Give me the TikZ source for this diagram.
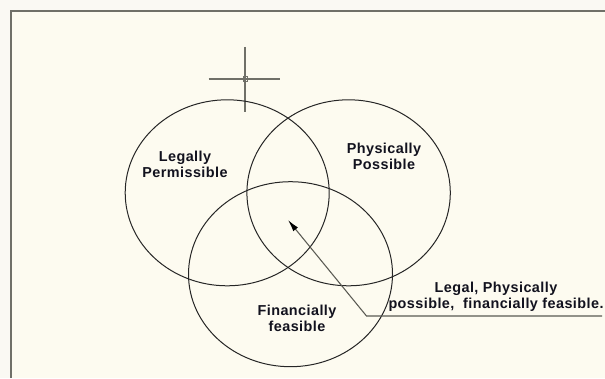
\documentclass[tikz,border=0pt]{standalone}
\usepackage{fontspec}
\setmainfont{Liberation Sans}
\newfontfamily\cadfont[LetterSpace=3]{Liberation Sans}
\usetikzlibrary{arrows.meta}
\definecolor{paper}{RGB}{253,251,240}
\definecolor{margin}{RGB}{250,249,243}
\definecolor{cadgray}{RGB}{112,112,104}
\definecolor{ink}{RGB}{18,18,30}
\tikzset{
  lbl/.style={align=center, text=ink, font=\cadfont\bfseries\fontsize{10.8}{12}\selectfont},
  ring/.style={draw=black!85, line width=0.75},
}

\begin{document}
\begin{tikzpicture}[x=0.75pt,y=0.75pt,yscale=-1,xscale=1]
\useasboundingbox (0,0) rectangle (605,378);
\fill[margin] (0,0) rectangle (605,378);
\fill[paper] (11,11) rectangle (605,378);
%Shape: Frame
\draw[cadgray, line width=1.2] (11,378) -- (11,11) -- (605,11);
%Shape: Crosshair
\draw[cadgray, line width=1] (245,47) -- (245,112) (208.5,79) -- (280,79);
\draw[cadgray, line width=0.6] (243,76.5) rectangle (247.5,81.5);

%Shape: Ellipse
\draw[ring] (227.2,192.8) ellipse [x radius=102, y radius=93];
%Shape: Ellipse
\draw[ring] (348.6,192.8) ellipse [x radius=101.7, y radius=93];
%Shape: Ellipse
\draw[ring] (290.5,274.2) ellipse [x radius=102, y radius=92.5];

% Text Node
\draw (185,164.5) node (legal) [lbl] {Legally\\Permissible};
% Text Node
\draw (384,156) node (phys) [lbl] {Physically\\Possible};
% Text Node
\draw (297,318) node (fin) [lbl] {Financially\\feasible};
% Text Node
\draw (496,297) node (all) [lbl] {Legal, Physically\\possible,\ \ financially feasible.};

%Straight Lines
\coordinate (tail) at (602,316);
\coordinate (bend) at (366.5,316);
\coordinate (core) at (288,220);
\draw[cadgray!80!black, line width=0.8, -{Latex[length=9pt,width=4.5pt,black]}] (tail) -- (bend) -- (core);
\end{tikzpicture}
\end{document}
